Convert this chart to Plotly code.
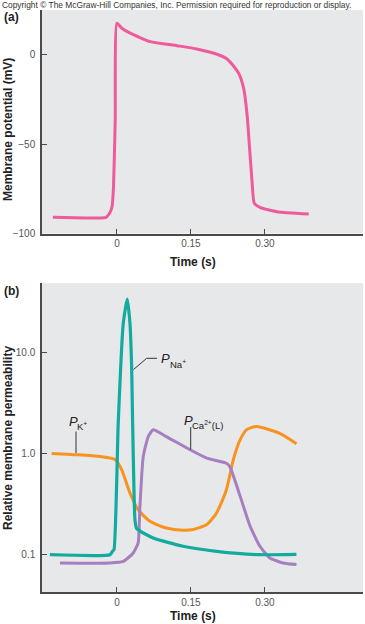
import plotly.graph_objects as go

# ---------------- data ----------------
# (a) membrane potential
t_vm = [-0.13, -0.022, -0.015, -0.010, -0.007, -0.0035, 0.0, 0.010, 0.027, 0.0675, 0.122,
        0.162, 0.203, 0.222, 0.236, 0.247, 0.257, 0.264, 0.269, 0.274, 0.2785, 0.291, 0.3245, 0.389]
vm = [-90.9, -90.9, -88.7, -85.0, -73.8, -36.4, 17.8, 15.0, 12.2, 7.5, 5.2,
      3.4, 0.4, -2.0, -6.0, -10.3, -18.7, -33.6, -52.3, -71.0, -83.1, -85.5, -87.8, -89.1]

# (b) relative permeabilities
t_na = [-0.136, -0.014, -0.009, -0.006, 0.0026, 0.0128, 0.0209, 0.0264, 0.0298, 0.0318,
        0.0345, 0.0365, 0.040, 0.0736, 0.134, 0.202, 0.29, 0.364]
p_na = [0.099, 0.099, 0.107, 0.111, 2.0, 19.5, 33.9, 19.5, 7.2, 2.0,
        0.44, 0.22, 0.18, 0.145, 0.12, 0.107, 0.099, 0.1]

t_k = [-0.1325, -0.082, -0.034, -0.004, 0.0095, 0.026, 0.043, 0.067, 0.10, 0.134,
       0.155, 0.182, 0.202, 0.222, 0.236, 0.25, 0.263, 0.283, 0.33, 0.364]
p_k = [1.0, 0.97, 0.93, 0.87, 0.69, 0.41, 0.277, 0.212, 0.182, 0.173,
       0.176, 0.197, 0.257, 0.437, 0.867, 1.37, 1.72, 1.85, 1.58, 1.25]

t_ca = [-0.1156, -0.014, 0.0128, 0.033, 0.043, 0.0466, 0.0533, 0.0635, 0.0736, 0.10,
        0.148, 0.182, 0.222, 0.229, 0.25, 0.27, 0.29, 0.31, 0.337, 0.364]
p_ca = [0.082, 0.082, 0.085, 0.103, 0.13, 0.30, 0.93, 1.47, 1.72, 1.47,
        1.09, 0.90, 0.80, 0.74, 0.375, 0.19, 0.12, 0.092, 0.082, 0.079]

x_ticks = [0, 0.15, 0.30]
x_ticktext = ["0", "0.15", "0.30"]
vm_ticks = [0, -50, -100]
vm_ticktext = ["0", "\u221250", "\u2212100"]
p_ticks = [0.1, 1, 10]
p_ticktext = ["0.1", "1.0", "10.0"]

# ---------------- figure ----------------
W, H = 365, 624
FONT = "Liberation Sans, Arial, sans-serif"
BG = "#e7e8ea"
AX = "#4a4a4a"

def px(x):
    return x / W

def py(y):
    return 1 - y / H

fig = go.Figure()
fig.add_trace(go.Scatter(x=t_vm, y=vm, mode="lines", xaxis="x", yaxis="y",
                         line=dict(color="#ef5a9b", width=3, shape="spline", smoothing=0.5)))
fig.add_trace(go.Scatter(x=t_k, y=p_k, mode="lines", xaxis="x2", yaxis="y2",
                         line=dict(color="#f7931e", width=3, shape="spline", smoothing=0.6)))
fig.add_trace(go.Scatter(x=t_ca, y=p_ca, mode="lines", xaxis="x2", yaxis="y2",
                         line=dict(color="#a77fc1", width=3, shape="spline", smoothing=0.5)))
fig.add_trace(go.Scatter(x=t_na, y=p_na, mode="lines", xaxis="x2", yaxis="y2",
                         line=dict(color="#14ab9f", width=3.2, shape="spline", smoothing=0.5)))

xdom = [px(42), px(363)]
common_x = dict(range=[-0.152, 0.499], tickvals=x_ticks, ticktext=x_ticktext,
                showline=True, linecolor=AX, linewidth=1.5, ticks="inside",
                ticklen=5, tickcolor=AX, tickwidth=1, showgrid=False, zeroline=False,
                automargin=False, ticklabelposition="outside",
                tickfont=dict(family=FONT, size=10, color="#555"))
common_y = dict(showline=True, linecolor=AX, linewidth=1.5, ticks="inside",
                ticklen=5, tickcolor=AX, tickwidth=1, showgrid=False, zeroline=False,
                automargin=False, ticklabelposition="outside", ticklabelstandoff=3,
                tickfont=dict(family=FONT, size=10, color="#555"))

fig.update_layout(
    template="none",
    width=W, height=H, margin=dict(l=0, r=0, t=0, b=0, pad=0),
    paper_bgcolor="white", plot_bgcolor=BG, showlegend=False,
    xaxis=dict(domain=xdom, anchor="y", **common_x),
    yaxis=dict(domain=[py(233.5), py(10)], anchor="x", range=[-100, 25.2],
               tickvals=vm_ticks, ticktext=vm_ticktext, **common_y),
    xaxis2=dict(domain=xdom, anchor="y2", **common_x),
    yaxis2=dict(domain=[py(592), py(283)], anchor="x2", type="log",
                range=[-1.374, 1.69], tickvals=p_ticks, ticktext=p_ticktext, **common_y),
)

ann = []
def text(x, y, s, size=12, bold=False, italic=False, color="#222", xanchor="left", angle=0):
    if bold:
        s = "<b>" + s + "</b>"
    if italic:
        s = "<i>" + s + "</i>"
    ann.append(dict(x=px(x), y=py(y), xref="paper", yref="paper", text=s, showarrow=False,
                    xanchor=xanchor, yanchor="middle", textangle=angle,
                    font=dict(family=FONT, size=size, color=color)))

text(0, 5, "Copyright \u00a9 The McGraw-Hill Companies, Inc. Permission required for reproduction or display.",
     size=8.4, color="#333")
text(2, 17, "(a)", size=12, bold=True)
text(2, 291, "(b)", size=12, bold=True)
text(8, 130, "Membrane potential (mV)", size=12, bold=True, xanchor="center", angle=-90)
text(8, 438, "Relative membrane permeability", size=12, bold=True, xanchor="center", angle=-90)
text(193, 262, "Time (s)", size=12, bold=True, xanchor="center")
text(193, 616, "Time (s)", size=12, bold=True, xanchor="center")

# curve labels
text(159, 358, "P", size=13, italic=True)
text(168, 364, "Na<sup>+</sup>", size=9.5)
text(67, 421, "P", size=13, italic=True)
text(75, 426, "K<sup>+</sup>", size=9.5)
text(182, 420, "P", size=13, italic=True)
text(190, 425, "Ca<sup>2+</sup>(L)", size=9.5)
fig.update_layout(annotations=ann)

# leader lines
def seg(x0, y0, x1, y1):
    fig.add_shape(type="line", xref="paper", yref="paper", x0=px(x0), y0=py(y0),
                  x1=px(x1), y1=py(y1), line=dict(color="#333", width=1))

seg(133.5, 369.5, 146.7, 358.3)
seg(146.7, 358.3, 157, 358.3)
seg(76, 431.5, 76, 453)
seg(190.7, 427, 190.7, 449.5)

fig.write_html("out.html", config={"displayModeBar": False},
               post_script="document.body.style.margin='0';document.body.style.overflow='hidden';")
